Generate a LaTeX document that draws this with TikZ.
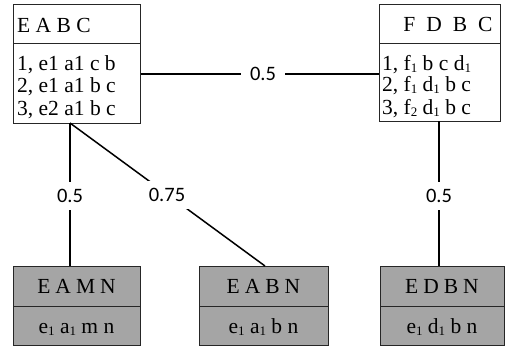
\documentclass[tikz,border=0pt]{standalone}
\usepackage{fontspec}
\setmainfont{Liberation Serif}
\newfontfamily\lblfont{Carlito}
\definecolor{boxgray}{RGB}{165,165,165}
\newcommand{\sbs}[1]{\raisebox{-2.5pt}{\fontsize{13}{13}\selectfont #1}}
\begin{document}
\begin{tikzpicture}[x=1pt,y=-1pt,
  frame/.style={draw=black!85, line width=0.8pt, inner sep=0pt, anchor=north west},
  txt/.style={inner sep=0pt, font=\fontsize{21.5}{23}\selectfont},
  conn/.style={line width=1.5pt, black},
  lbl/.style={fill=white, inner xsep=9pt, inner ysep=7pt, font=\lblfont\fontsize{20.5}{22}\selectfont}]
\useasboundingbox (0,0) rectangle (505,346);
% top-left table
\node[frame, minimum width=127pt, minimum height=39pt] (eabcH) at (13,4) {};
\node[frame, minimum width=127pt, minimum height=80pt] (eabcB) at (13,43) {};
\node[txt, anchor=base west] (eabcT) at (17,32) {E A B C};
\node[txt, anchor=base west] (eabc1) at (17,70) {1, e1 a1 c b};
\node[txt, anchor=base west] (eabc2) at (17,92) {2, e1 a1 b c};
\node[txt, anchor=base west] (eabc3) at (17,115) {3, e2 a1 b c};
% top-right table
\node[frame, minimum width=121pt, minimum height=39pt] (fdbcH) at (379,4) {};
\node[frame, minimum width=121pt, minimum height=78pt] (fdbcB) at (379,43) {};
\node[txt, anchor=base] (fdbcT) at (448,31) {F\hspace{11pt}D\hspace{11pt}B\hspace{11pt}C};
\node[txt, anchor=base west] (fdbc1) at (382,70) {1, f\sbs{1} b c d\sbs{1}};
\node[txt, anchor=base west] (fdbc2) at (382,91) {2, f\sbs{1} d\sbs{1} b c};
\node[txt, anchor=base west] (fdbc3) at (382,114) {3, f\sbs{2} d\sbs{1} b c};
% bottom tables
\node[frame, fill=boxgray, minimum width=127pt, minimum height=40pt] (eamnH) at (13,266) {};
\node[frame, fill=boxgray, minimum width=127pt, minimum height=39pt] (eamnB) at (13,306) {};
\node[txt, anchor=base] (eamnT) at (76.5,293) {E\hspace{5pt}A\hspace{5pt}M\hspace{5pt}N};
\node[txt, anchor=base] (eamnR) at (76.5,333) {e\sbs{1} a\sbs{1} m n};
\node[frame, fill=boxgray, minimum width=129pt, minimum height=40pt] (eabnH) at (199,266) {};
\node[frame, fill=boxgray, minimum width=129pt, minimum height=39pt] (eabnB) at (199,306) {};
\node[txt, anchor=base] (eabnT) at (263.5,293) {E\hspace{5pt}A\hspace{5pt}B\hspace{5pt}N};
\node[txt, anchor=base] (eabnR) at (263.5,333) {e\sbs{1} a\sbs{1} b n};
\node[frame, fill=boxgray, minimum width=124pt, minimum height=40pt] (edbnH) at (380,266) {};
\node[frame, fill=boxgray, minimum width=124pt, minimum height=39pt] (edbnB) at (380,306) {};
\node[txt, anchor=base] (edbnT) at (442,293) {E\hspace{5pt}D\hspace{5pt}B\hspace{5pt}N};
\node[txt, anchor=base] (edbnR) at (442,333) {e\sbs{1} d\sbs{1} b n};
% connectors
\coordinate (p1) at (70,123);
\coordinate (p2) at (70,266);
\coordinate (p3) at (265,266);
\coordinate (p4) at (439,121);
\coordinate (p5) at (439,266);
\draw[conn] (eabcB.east |- 0,74) -- (fdbcB.west |- 0,74);
\draw[conn] (p1) -- (p2);
\draw[conn] (p1) -- (p3);
\draw[conn] (p4) -- (p5);
% labels
\node[lbl] (w1) at (263,74) {0.5};
\node[lbl] (w2) at (70,196) {0.5};
\node[lbl] (w3) at (167,195) {0.75};
\node[lbl] (w4) at (439,196) {0.5};
\end{tikzpicture}
\end{document}
